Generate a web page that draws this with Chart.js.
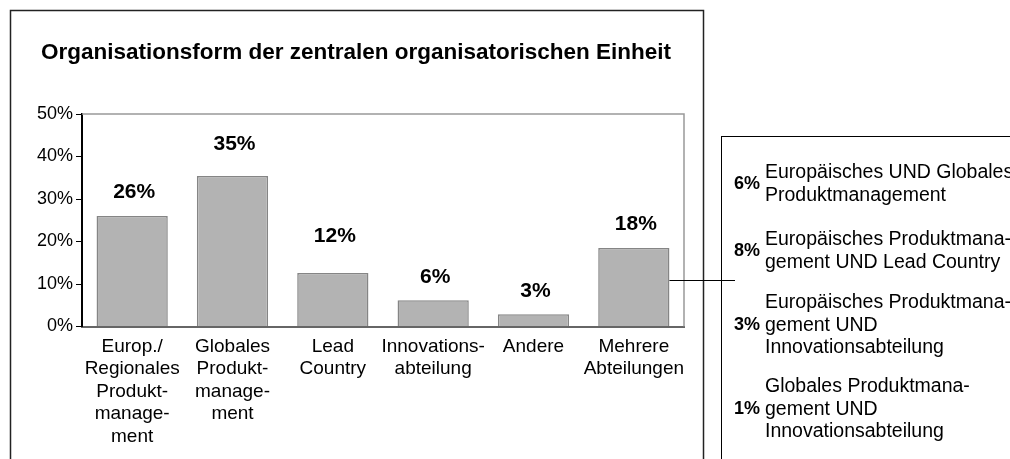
<!DOCTYPE html>
<html>
<head>
<meta charset="utf-8">
<script src="https://cdn.jsdelivr.net/npm/chart.js@4"></script>
<style>
html, body { margin: 0; padding: 0; background: #fff; }
#wrap { width: 1010px; height: 459px; }
</style>
</head>
<body>
<div id="wrap"><canvas id="orgChart" width="1010" height="459"></canvas></div>
<script>
const chartTitle = 'Organisationsform der zentralen organisatorischen Einheit';
const categories = [
    ['Europ./', 'Regionales', 'Produkt-', 'manage-', 'ment'],
    ['Globales', 'Produkt-', 'manage-', 'ment'],
    ['Lead', 'Country'],
    ['Innovations-', 'abteilung'],
    ['Andere'],
    ['Mehrere', 'Abteilungen']
];
const shares = [26, 35.4, 12.6, 6.2, 2.9, 18.5];
const shareLabels = ['26%', '35%', '12%', '6%', '3%', '18%'];
const yTicks = [0, 10, 20, 30, 40, 50];

// breakdown of "Mehrere Abteilungen" (box on the right)
const comboShares = ['6%', '8%', '3%', '1%'];
const comboLabels = [
    ['Europäisches UND Globales', 'Produktmanagement'],
    ['Europäisches Produktmana-', 'gement UND Lead Country'],
    ['Europäisches Produktmana-', 'gement UND', 'Innovationsabteilung'],
    ['Globales Produktmana-', 'gement UND', 'Innovationsabteilung']
];

const FONT = '"Liberation Sans", Arial, Helvetica, sans-serif';

const decorPlugin = {
    id: 'decor',
    beforeDraw(chart) {
        const ctx = chart.ctx;
        ctx.save();
        ctx.fillStyle = '#fff';
        ctx.fillRect(0, 0, chart.width, chart.height);
        // outer frame
        ctx.strokeStyle = '#222';
        ctx.lineWidth = 1.5;
        ctx.strokeRect(10.5, 10.5, 693, 520);
        // title
        ctx.fillStyle = '#000';
        ctx.font = 'bold 22.5px ' + FONT;
        ctx.textAlign = 'center';
        ctx.textBaseline = 'middle';
        ctx.fillText(chartTitle, 356, 53);
        ctx.restore();
    },
    beforeDatasetsDraw(chart) {
        // grey top and right edge of the plot area
        const a = chart.chartArea;
        const ctx = chart.ctx;
        ctx.save();
        ctx.strokeStyle = '#999';
        ctx.lineWidth = 1.5;
        ctx.beginPath();
        ctx.moveTo(a.left, a.top);
        ctx.lineTo(a.right, a.top);
        ctx.lineTo(a.right, a.bottom);
        ctx.stroke();
        ctx.restore();
    },
    afterDatasetsDraw(chart, args, opts) {
        const ctx = chart.ctx;
        const meta = chart.getDatasetMeta(0);
        ctx.save();
        // value labels above bars
        ctx.fillStyle = '#000';
        ctx.font = 'bold 21px ' + FONT;
        ctx.textAlign = 'center';
        ctx.textBaseline = 'middle';
        meta.data.forEach((bar, i) => {
            ctx.fillText(shareLabels[i], bar.x + 2, bar.y - opts.labelOffsets[i]);
        });

        // connector from last bar to the box
        const last = meta.data[meta.data.length - 1];
        const yLine = Math.round(chart.scales.y.getPixelForValue(11)) + 0.5;
        ctx.strokeStyle = '#000';
        ctx.lineWidth = 1;
        ctx.beginPath();
        ctx.moveTo(last.x + last.width / 2, yLine);
        ctx.lineTo(735, yLine);
        ctx.stroke();

        // side box
        ctx.strokeRect(721.5, 136.5, 400, 400);
        ctx.textAlign = 'left';
        const lh = 22.5;
        comboLabels.forEach((lines, i) => {
            const y0 = opts.itemTops[i];
            ctx.font = '19.5px ' + FONT;
            lines.forEach((t, j) => ctx.fillText(t, 765, y0 + j * lh));
            ctx.font = 'bold 18px ' + FONT;
            ctx.fillText(comboShares[i], 734, y0 + (lines.length - 1) * lh / 2);
        });
        ctx.restore();
    }
};

new Chart(document.getElementById('orgChart').getContext('2d'), {
    type: 'bar',
    data: {
        labels: categories,
        datasets: [{
            data: shares,
            backgroundColor: '#b3b3b3',
            borderColor: '#858585',
            borderWidth: 1.5,
            barPercentage: 0.71,
            categoryPercentage: 1.0
        }]
    },
    options: {
        responsive: false,
        animation: false,
        layout: {
            padding: { left: 10, right: 326, top: 114, bottom: 0 }
        },
        plugins: {
            legend: { display: false },
            title: { display: false },
            tooltip: { enabled: false },
            decor: {
                labelOffsets: [24, 32, 37, 23, 23, 24],
                itemTops: [173, 240, 303, 387]
            }
        },
        scales: {
            x: {
                grid: { display: false },
                border: { color: '#666', width: 2 },
                ticks: {
                    color: '#000',
                    padding: 1,
                    maxRotation: 0,
                    autoSkip: false,
                    font: { family: FONT, size: 19, lineHeight: 1.18 }
                },
                afterFit(scale) { scale.height = 132.5; }
            },
            y: {
                min: 0,
                max: 50,
                afterBuildTicks(scale) { scale.ticks = yTicks.map(v => ({ value: v })); },
                grid: { drawOnChartArea: false, drawTicks: true, tickLength: 6, color: '#000' },
                border: { color: '#000', width: 2 },
                ticks: {
                    color: '#000',
                    padding: 3,
                    font: { family: FONT, size: 18 },
                    callback: v => v + '%'
                },
                afterFit(scale) { scale.width = 72; }
            }
        }
    },
    plugins: [decorPlugin]
});
</script>
</body>
</html>
